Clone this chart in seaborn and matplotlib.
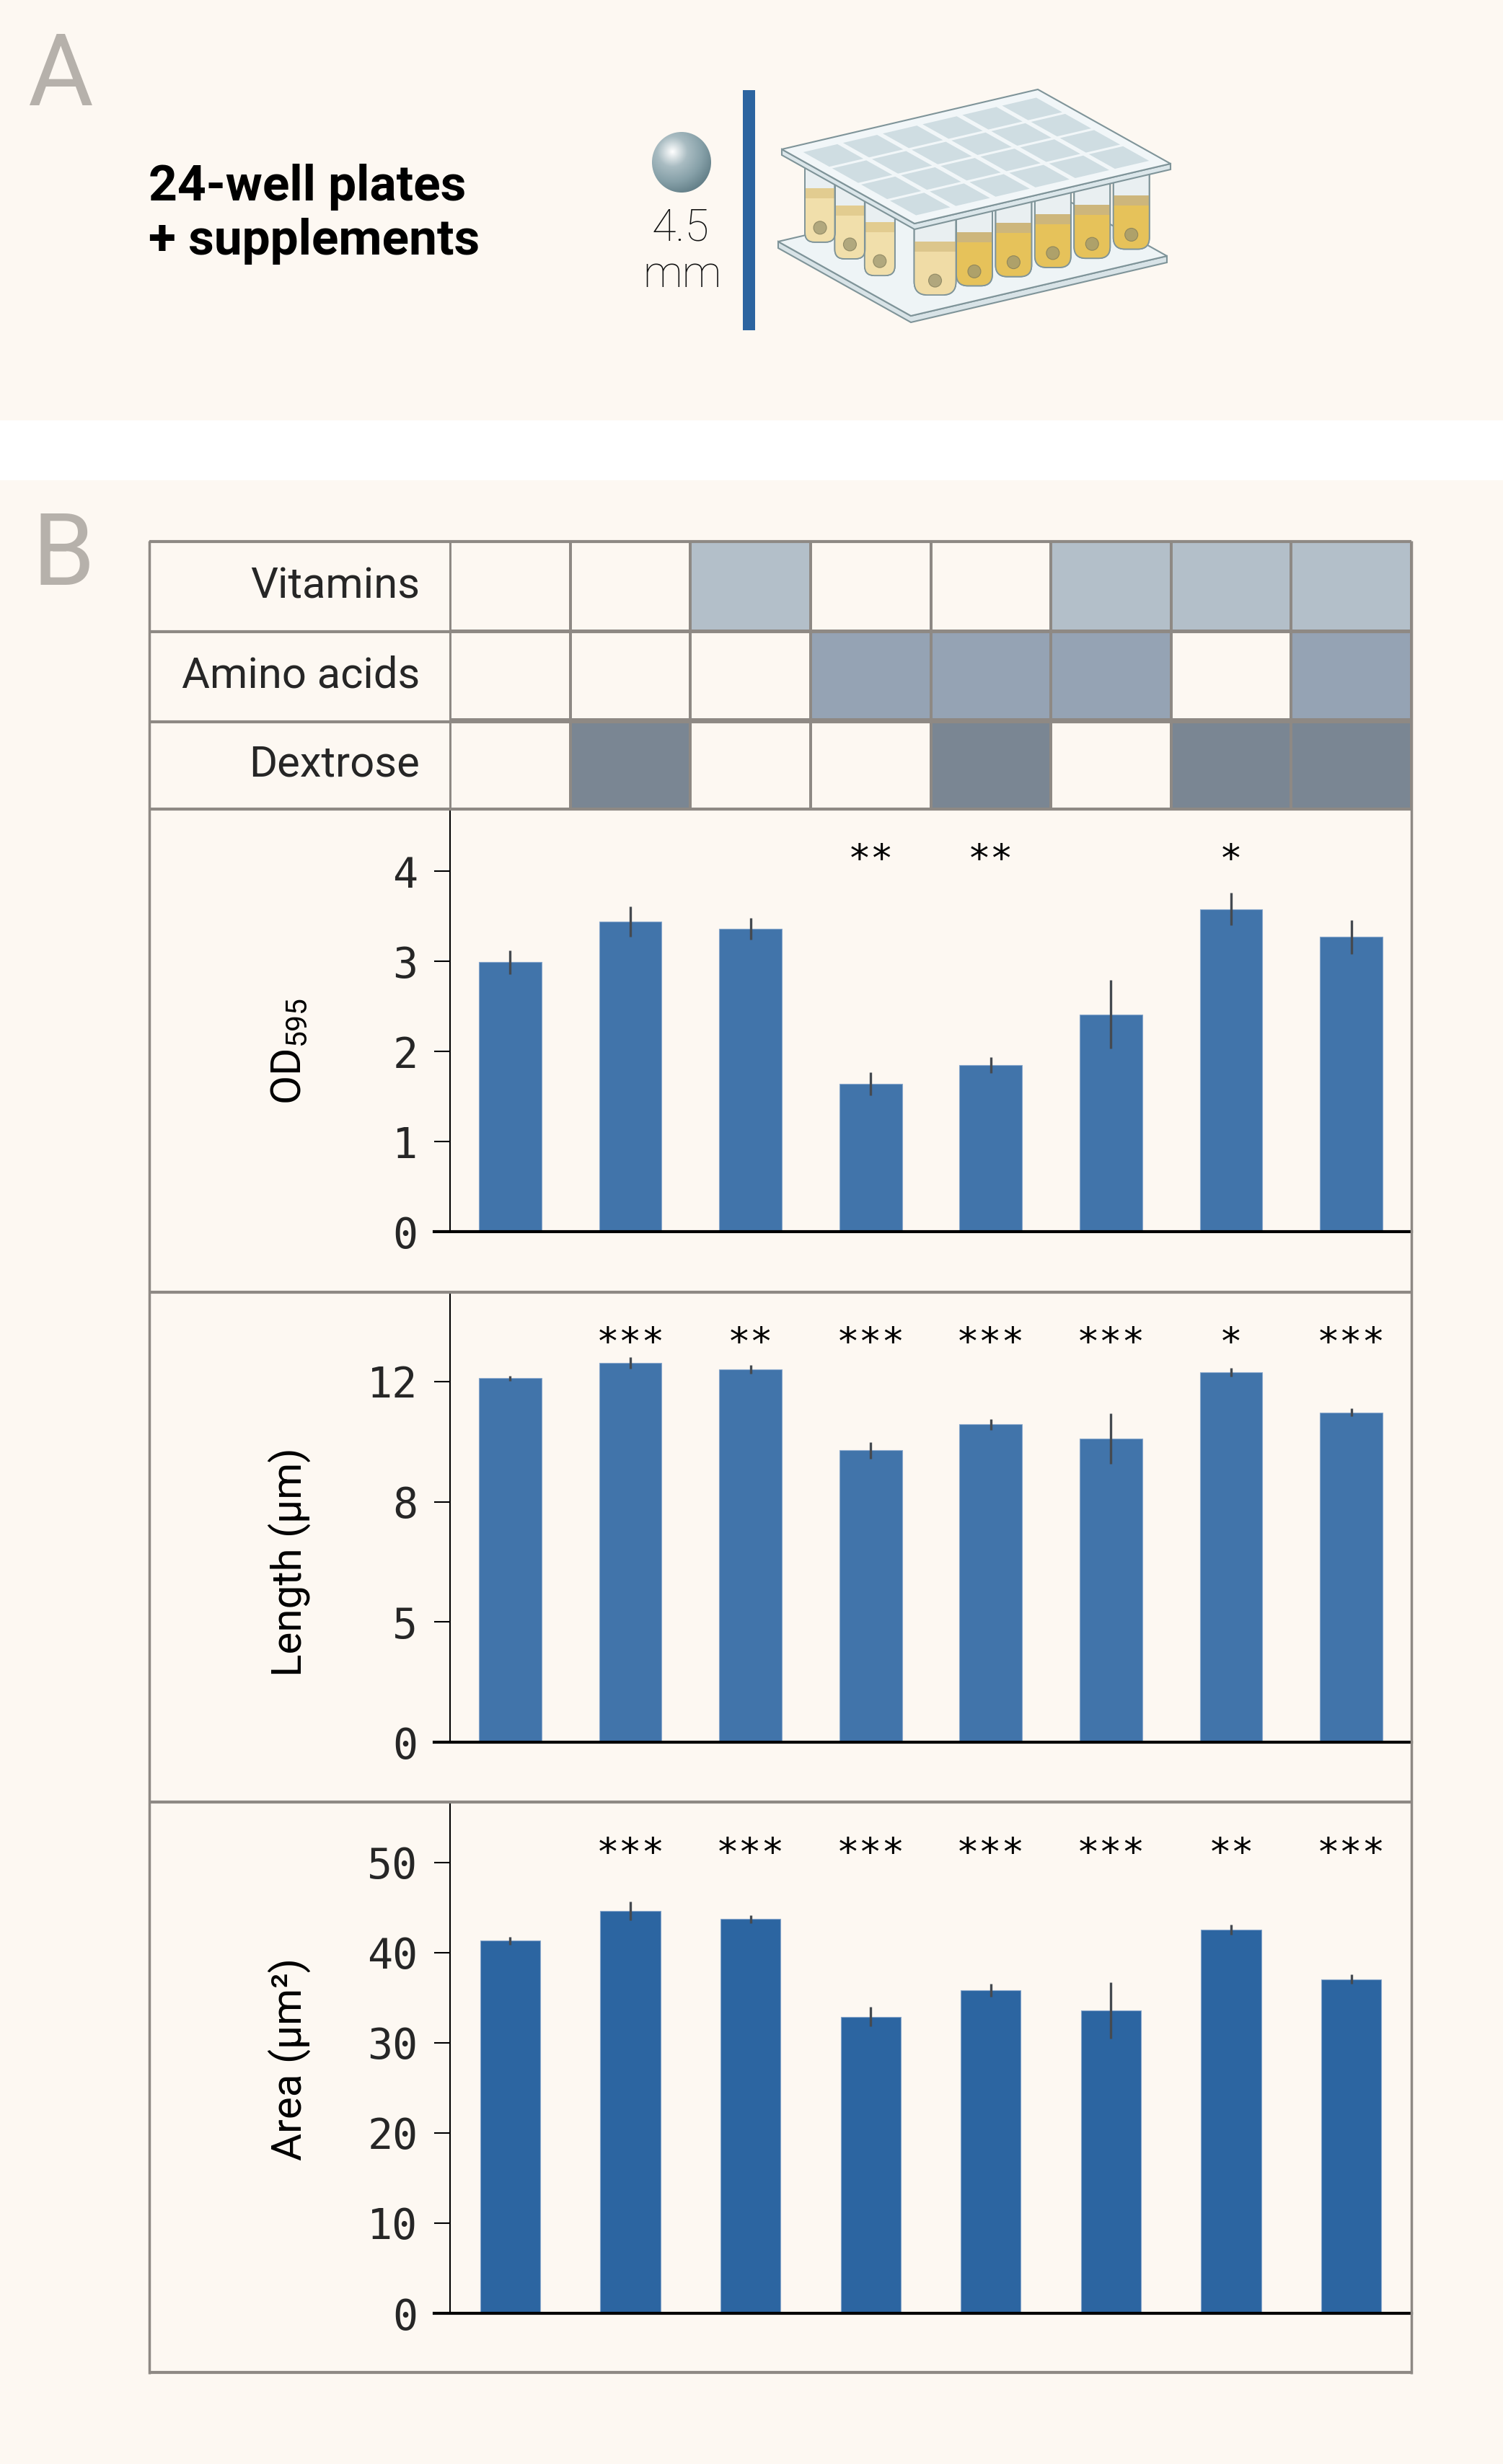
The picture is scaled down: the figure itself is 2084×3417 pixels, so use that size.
import numpy as np
import pandas as pd
import matplotlib
matplotlib.use("Agg")
import matplotlib.pyplot as plt
import seaborn as sns
from matplotlib.colors import ListedColormap, LinearSegmentedColormap
from matplotlib.patches import Rectangle, Polygon, Ellipse, Circle, FancyBboxPatch

# ---- data -------------------------------------------------------------
conditions = ["none", "D", "V", "A", "AD", "VA", "VD", "VAD"]
row_labels = ["Vitamins", "Amino acids", "Dextrose"]
vitamins = [0, 0, 1, 0, 0, 1, 1, 1]
amino_acids = [0, 0, 0, 1, 1, 1, 0, 1]
dextrose = [0, 1, 0, 0, 1, 0, 1, 1]

od_mean = [2.99, 3.44, 3.36, 1.64, 1.85, 2.41, 3.58, 3.27]
od_err = [0.13, 0.17, 0.12, 0.13, 0.09, 0.38, 0.18, 0.19]
od_stars = ["", "", "", "**", "**", "", "*", ""]
od_ticks = [0, 1, 2, 3, 4]
od_tick_labels = ["0", "1", "2", "3", "4"]

length_mean = [12.11, 12.62, 12.40, 9.71, 10.57, 10.10, 12.31, 10.97]
length_err = [0.08, 0.20, 0.14, 0.28, 0.18, 0.85, 0.14, 0.13]
length_stars = ["", "***", "**", "***", "***", "***", "*", "***"]
length_ticks = [0, 4, 8, 12]
length_tick_labels = ["0", "5", "8", "12"]

area_mean = [41.31, 44.60, 43.69, 32.88, 35.80, 33.59, 42.52, 37.05]
area_err = [0.42, 1.07, 0.46, 1.08, 0.73, 3.10, 0.58, 0.54]
area_stars = ["", "***", "***", "***", "***", "***", "**", "***"]
area_ticks = [0, 10, 20, 30, 40, 50]
area_tick_labels = ["0", "10", "20", "30", "40", "50"]

# ---- style ------------------------------------------------------------
W, H, DPI = 2084, 3417, 100
BG = "#fdf8f2"
GRID = "#8e8984"
SHADES = [BG, "#b3bfc9", "#95a3b4", "#7a8693"]
MONO = "DejaVu Sans Mono"

sns.set_theme(style="ticks")
plt.rcParams["font.family"] = ["Roboto", "DejaVu Sans"]
plt.rcParams["mathtext.fontset"] = "custom"
plt.rcParams["mathtext.rm"] = "Roboto"
plt.rcParams["text.color"] = "black"

fig = plt.figure(figsize=(W / DPI, H / DPI), dpi=DPI, facecolor=BG)


def box(x0, y0, x1, y1):
    return [x0 / W, 1 - y1 / H, (x1 - x0) / W, (y1 - y0) / H]


# background layer (panel A drawing)
bg = fig.add_axes([0, 0, 1, 1], zorder=0)
bg.set_xlim(0, W)
bg.set_ylim(H, 0)
bg.axis("off")
bg.add_patch(Rectangle((0, 583), W, 83, color="white", lw=0))

bg.text(38, 146, "A", fontsize=100, color="#b6b1ab", va="baseline")
bg.text(44, 811, "B", fontsize=100, color="#b6b1ab", va="baseline")
bg.text(206, 278, "24-well plates", fontsize=50, fontweight="bold", va="baseline")
bg.text(206, 353, "+ supplements", fontsize=50, fontweight="bold", va="baseline")
bg.text(944, 333, "4.5", fontsize=44, fontweight="light", ha="center", va="baseline", color="#111111")
bg.text(946, 398, "mm", fontsize=44, fontweight="light", ha="center", va="baseline", color="#111111")
bg.add_patch(Rectangle((1030, 125), 17, 333, color="#2c64a0", lw=0))

# bead
cx, cy, r = 945, 225, 42
gx, gy = np.meshgrid(np.linspace(-1, 1, 200), np.linspace(-1, 1, 200))
shade = np.hypot(gx + 0.3, gy + 0.35)
bead_cmap = LinearSegmentedColormap.from_list("bead", ["#ffffff", "#a9bcc2", "#86a0a8", "#5f7b84"])
im = bg.imshow(shade, cmap=bead_cmap, extent=[cx - r, cx + r, cy + r, cy - r], vmin=0, vmax=1.5,
               interpolation="bilinear", zorder=3)
clip = Ellipse((cx, cy), 2 * r - 2, 2 * r, transform=bg.transData)
im.set_clip_path(clip)
bg.set_xlim(0, W)
bg.set_ylim(H, 0)

# plate illustration
D = np.array([1268.0, 310.0])
B0 = np.array([1263.0, 438.0])
U = np.array([355.0, -83.0])
V = np.array([-184.0, -103.0])
OUT = "#7f9499"


def lid_pt(u, v):
    return D + u * U + v * V


def base_pt(u, v):
    return B0 + u * U + v * V


def slab(pt, thick, top_col, side_col):
    top = [pt(0, 0), pt(1, 0), pt(1, 1), pt(0, 1)]
    side = [pt(0, 1), pt(0, 0), pt(1, 0), pt(1, 0) + [0, thick], pt(0, 0) + [0, thick], pt(0, 1) + [0, thick]]
    bg.add_patch(Polygon(side, closed=True, fc=side_col, ec=OUT, lw=1.5, zorder=4))
    bg.add_patch(Polygon(top, closed=True, fc=top_col, ec=OUT, lw=1.5, zorder=4))


slab(base_pt, 9, "#eef4f6", "#d8e3e7")


def tube(u, v, w, liquid, top_liquid):
    x, top = lid_pt(u, v) + [0, -4]
    bot = base_pt(u, v)[1] - 12
    t = FancyBboxPatch((x - w / 2, top), w, bot - top, boxstyle=f"round,pad=0,rounding_size={w * 0.32}",
                       fc="#e9eff1", ec=OUT, lw=1.3, zorder=5)
    bg.add_patch(t)
    liq_top = top + 0.38 * (bot - top)
    liq = Rectangle((x - w / 2, liq_top), w, bot - liq_top, fc=liquid, lw=0, zorder=5.1)
    liq.set_clip_path(t)
    bg.add_patch(liq)
    band = Rectangle((x - w / 2, liq_top), w, 14, fc=top_liquid, lw=0, zorder=5.2)
    band.set_clip_path(t)
    bg.add_patch(band)
    bg.add_patch(Circle((x, bot - 20), 9, fc="#9c9670", ec="#7f7a58", lw=0.8, alpha=0.75, zorder=5.3))
    bg.add_patch(FancyBboxPatch((x - w / 2, top), w, bot - top, boxstyle=f"round,pad=0,rounding_size={w * 0.32}",
                                fc="none", ec=OUT, lw=1.3, zorder=5.4))


for j in [3, 2, 1]:
    tube(0.06, (j + 0.5) / 4 * 0.9 + 0.04, 42, "#f1dfab", "#e2cc90")
for i in range(5, -1, -1):
    u = (i + 0.5) / 6 * 0.92 + 0.04
    if i == 0:
        tube(u, 0.07, 58, "#f0dca6", "#dcc68c")
    else:
        tube(u, 0.07, 50, "#e6c25a", "#cdb67c")

# lid
lid_top = [lid_pt(0, 0), lid_pt(1, 0), lid_pt(1, 1), lid_pt(0, 1)]
lid_side = [lid_pt(0, 1), lid_pt(0, 0), lid_pt(1, 0), lid_pt(1, 0) + [0, 8], lid_pt(0, 0) + [0, 8],
            lid_pt(0, 1) + [0, 8]]
bg.add_patch(Polygon(lid_side, closed=True, fc="#dbe6ea", ec=OUT, lw=1.5, zorder=6))
bg.add_patch(Polygon(lid_top, closed=True, fc="#f1f6f8", ec=OUT, lw=1.5, zorder=6))
mu, mv, gap = 0.045, 0.075, 0.022
cw = (1 - 2 * mu - 5 * gap) / 6
ch = (1 - 2 * mv - 3 * gap) / 4
for rr in range(4):
    for cc in range(6):
        u0 = mu + cc * (cw + gap)
        v0 = mv + rr * (ch + gap)
        sq = [lid_pt(u0, v0), lid_pt(u0 + cw, v0), lid_pt(u0 + cw, v0 + ch), lid_pt(u0, v0 + ch)]
        bg.add_patch(Polygon(sq, closed=True, fc="#cfdde2", lw=0, zorder=6.1))

# ---- table of supplements -------------------------------------------
X0, X1 = 624, 1957
tab = fig.add_axes(box(X0, 751, X1, 1122), zorder=2)
matrix = pd.DataFrame(
    [vitamins, [2 * a for a in amino_acids], [3 * d for d in dextrose]],
    index=row_labels, columns=conditions,
)
sns.heatmap(matrix, ax=tab, cmap=ListedColormap(SHADES), vmin=-0.5, vmax=3.5, cbar=False,
            linewidths=1.5, linecolor=GRID, xticklabels=False)
tab.set_yticklabels(row_labels, rotation=0, fontsize=43)
tab.tick_params(axis="y", length=0, pad=30)
tab.set_xlabel("")
tab.set_ylabel("")

# ---- bar panels -------------------------------------------------------
panels = [
    dict(mean=od_mean, err=od_err, stars=od_stars, top=1122, zero=1708, ymax=4.69,
         ticks=od_ticks, labels=od_tick_labels, ylabel=r"OD$_{\mathrm{595}}$", label_y=1458,
         color="#4174aa", width=0.52),
    dict(mean=length_mean, err=length_err, stars=length_stars, top=1792, zero=2416, ymax=14.97,
         ticks=length_ticks, labels=length_tick_labels, ylabel="Length (µm)", label_y=2166,
         color="#4174aa", width=0.52),
    dict(mean=area_mean, err=area_err, stars=area_stars, top=2500, zero=3208, ymax=56.6,
         ticks=area_ticks, labels=area_tick_labels, ylabel="Area (µm²)", label_y=2855,
         color="#2c65a1", width=0.5),
]

for p in panels:
    ax = fig.add_axes(box(X0, p["top"], X1, p["zero"]), zorder=2)
    ax.patch.set_alpha(0)
    df = pd.DataFrame({"condition": conditions, "value": p["mean"]})
    sns.barplot(data=df, x="condition", y="value", ax=ax, color=p["color"], saturation=1,
                width=p["width"], errorbar=None, edgecolor="#88a7cc", linewidth=0.8)
    ax.errorbar(np.arange(len(conditions)), p["mean"], yerr=p["err"], fmt="none",
                ecolor="#454a50", elinewidth=2.4, capsize=0, zorder=3)
    ax.set_xlim(-0.5, len(conditions) - 0.5)
    ax.set_ylim(0, p["ymax"])
    ax.set_xticks([])
    ax.set_xlabel("")
    ax.set_ylabel("")
    ax.set_yticks(p["ticks"])
    ax.set_yticklabels(p["labels"], fontfamily=MONO, fontsize=42)
    ax.tick_params(axis="y", length=16, width=1.5, pad=16, color="black")
    for side in ["top", "right"]:
        ax.spines[side].set_visible(False)
    ax.spines["left"].set_linewidth(1.5)
    ax.spines["left"].set_color("black")
    ax.spines["bottom"].set_linewidth(3)
    ax.spines["bottom"].set_color("black")
    ax.spines["bottom"].set_bounds(-0.5 - 22 / 166.6, len(conditions) - 0.5)
    for i, s in enumerate(p["stars"]):
        if s:
            ax.annotate(s, xy=(i, 1), xycoords=("data", "axes fraction"), xytext=(0, -62),
                        textcoords="offset points", ha="center", va="baseline",
                        fontfamily=MONO, fontsize=38)
    ax.text((401 - X0) / (X1 - X0), (p["zero"] - p["label_y"]) / (p["zero"] - p["top"]), p["ylabel"],
            transform=ax.transAxes, rotation=90, ha="center", va="center", fontsize=42)

# ---- frame lines -------------------------------------------------------
fg = fig.add_axes([0, 0, 1, 1], zorder=5)
fg.patch.set_alpha(0)
fg.set_xlim(0, W)
fg.set_ylim(H, 0)
fg.axis("off")
for y in [751, 876, 1001, 1122, 1792, 2499, 3290]:
    fg.plot([207, 1957], [y, y], color=GRID, lw=3, solid_capstyle="butt")
for x in [207, 1957]:
    fg.plot([x, x], [749.5, 3291.5], color=GRID, lw=2.5, solid_capstyle="butt")
fg.plot([X0, X0], [751, 1122], color=GRID, lw=1.5)

fig.savefig("out.png", dpi=DPI, facecolor=BG)
